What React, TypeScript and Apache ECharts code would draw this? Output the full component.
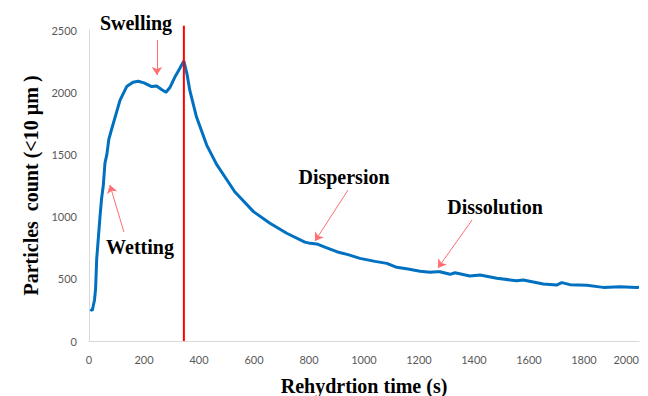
import React, { useEffect, useRef } from "react";
import * as echarts from "echarts";

const timeS = [5, 12, 20, 24, 28, 33, 40, 46, 52, 58, 65, 72, 82, 95, 113, 137, 160, 179, 200, 228, 246, 265, 280, 295, 313, 330, 345, 356, 367, 391, 428, 464, 500, 530, 560, 598, 658, 719, 785, 805, 828, 860, 901, 945, 985, 1040, 1083, 1119, 1160, 1204, 1240, 1264, 1276, 1313, 1331, 1385, 1422, 1483, 1555, 1579, 1652, 1700, 1719, 1749, 1810, 1870, 1931, 1991, 2000];
const counts = [255, 245, 330, 420, 660, 800, 1000, 1150, 1250, 1430, 1500, 1620, 1700, 1800, 1937, 2045, 2080, 2088, 2075, 2045, 2050, 2020, 2000, 2040, 2125, 2190, 2250, 2150, 2010, 1800, 1575, 1420, 1300, 1200, 1130, 1040, 946, 866, 795, 785, 780, 752, 718, 692, 664, 640, 624, 592, 578, 560, 552, 556, 557, 536, 549, 522, 530, 504, 485, 490, 458, 450, 469, 453, 448, 431, 437, 431, 432];

const redLineTime = 345;
const redLineSpan = [0, 2535];

// annotation arrows: [tailTime, tailCount, headTime, headCount]
const arrowNames = ["Swelling", "Wetting", "Dispersion", "Dissolution"];
const arrows = [
  [247, 2420, 247, 2138],
  [127, 876, 76, 1254],
  [942, 1214, 822, 804],
  [1393, 973, 1269, 587],
];

export default function App() {
  const ref = useRef<HTMLDivElement>(null);
  useEffect(() => {
    if (!ref.current) return;
    const chart = echarts.init(ref.current, null, { renderer: "svg" });
    const serif = "Liberation Serif";
    const tickFont = "Lato";
    const annot = (text: string, x: number, y: number) => ({
      type: "text",
      x,
      y,
      style: { text, fontFamily: serif, fontWeight: "bold", fontSize: 20, fill: "#000", align: "center", verticalAlign: "middle" },
    });
    chart.setOption({
      animation: false,
      backgroundColor: "#ffffff",
      grid: { left: 89, right: 9, top: 30, bottom: 55, containLabel: false, outerBoundsMode: "none" },
      xAxis: {
        type: "value",
        min: 0,
        max: 2000,
        interval: 200,
        name: "Rehydrtion time (s)",
        nameLocation: "middle",
        nameGap: 35,
        nameTextStyle: { fontFamily: serif, fontWeight: "bold", fontSize: 20, color: "#000" },
        axisLine: { show: true, lineStyle: { color: "#d9d9d9", width: 1 } },
        axisTick: { show: false },
        splitLine: { show: false },
        axisLabel: { color: "#595959", fontSize: 11, fontFamily: tickFont, margin: 13, alignMaxLabel: "right", formatter: (v: number) => String(v) },
      },
      yAxis: {
        type: "value",
        min: 0,
        max: 2500,
        interval: 500,
        name: "Particles  count (<10 µm )",
        nameLocation: "middle",
        nameGap: 48,
        nameRotate: 90,
        nameTextStyle: { fontFamily: serif, fontWeight: "bold", fontSize: 20, color: "#000" },
        axisLine: { show: true, lineStyle: { color: "#d9d9d9", width: 1 } },
        axisTick: { show: false },
        splitLine: { show: false },
        axisLabel: { color: "#595959", fontSize: 11, fontFamily: tickFont, margin: 12, formatter: (v: number) => String(v) },
      },
      series: [
        {
          type: "line",
          data: timeS.map((t, i) => [t, counts[i]]),
          showSymbol: false,
          symbol: "none",
          lineStyle: { color: "#0070C0", width: 3 },
          z: 3,
          markLine: {
            silent: true,
            symbol: ["none", "arrow"],
            symbolSize: 8,
            lineStyle: { color: "#FF6F6F", width: 1, type: "solid" },
            itemStyle: { color: "#FF2020" },
            label: { show: false },
            data: arrows.map((a) => [
              { coord: [a[0], a[1]] },
              { coord: [a[2], a[3]] },
            ]),
          },
        },
        {
          type: "line",
          data: redLineSpan.map((v) => [redLineTime, v]),
          showSymbol: false,
          symbol: "none",
          clip: false,
          lineStyle: { color: "#FF0000", width: 2 },
          z: 4,
        },
      ],
      graphic: [
        annot(arrowNames[0], 136, 23),
        annot(arrowNames[1], 140, 247),
        annot(arrowNames[2], 344, 177),
        annot(arrowNames[3], 495, 207),
      ],
    });
    return () => chart.dispose();
  }, []);
  return <div ref={ref} style={{ width: 648, height: 396, position: "absolute", left: 0, top: 0 }} />;
}
